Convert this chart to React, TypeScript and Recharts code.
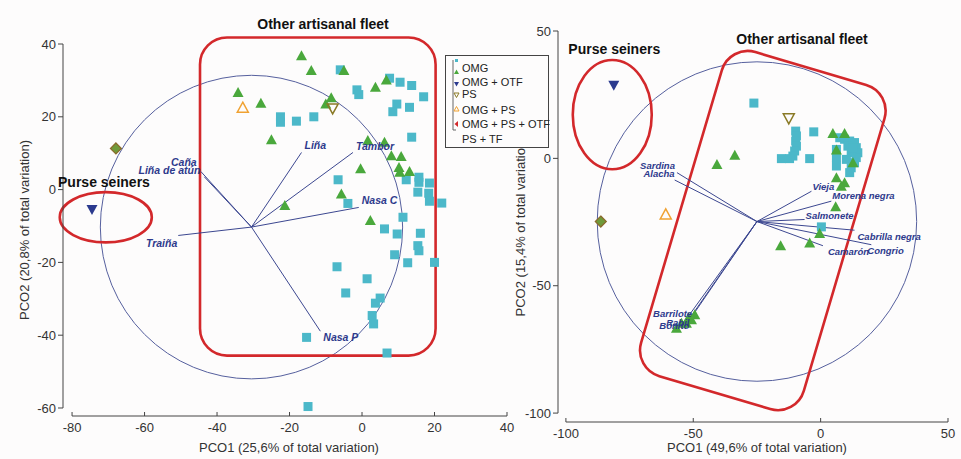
import React from 'react';
import {
  ScatterChart,
  Scatter,
  XAxis,
  YAxis,
  ReferenceLine,
  ReferenceArea,
  ReferenceDot,
} from 'recharts';

type P = [number, number];

// ---- left plot: gears ----
const leftOmg: P[] = [
  [-22.5, 20.0], [-22.5, 18.5], [-18.1, 18.8], [-13.3, 20.0], [-6.0, 32.9], [-1.4, 27.4],
  [-0.9, 26.1], [7.6, 30.6], [10.5, 29.5], [13.7, 28.6], [17.0, 25.5], [9.6, 23.5],
  [8.5, 21.4], [13.1, 22.6], [13.7, 14.4], [-6.6, 2.7], [-3.9, -3.8], [12.2, 2.7],
  [15.7, 3.4], [15.7, 2.0], [18.6, 1.8], [15.4, -0.7], [18.4, -1.0], [18.6, -3.2],
  [22.0, -3.7], [11.3, -7.6], [6.2, -10.8], [9.7, -12.2], [16.1, -12.0], [15.4, -15.4],
  [15.7, -16.8], [9.0, -17.9], [12.6, -20.1], [20.0, -20.0], [-6.9, -21.2], [1.4, -24.5],
  [-4.5, -28.4], [5.0, -29.8], [3.7, -31.2], [2.8, -34.6], [3.2, -36.9], [-15.3, -40.6],
  [6.9, -44.9], [-14.9, -59.6],
];
const leftOmgOtf: P[] = [
  [-34.2, 26.7], [-27.9, 23.7], [-25.0, 13.7], [-16.7, 36.8], [-14.0, 32.7], [-5.0, 32.7],
  [-10.0, 23.5], [-8.5, 25.2], [3.7, 28.1], [6.7, 30.1], [1.6, 13.5], [6.2, 13.0],
  [8.1, 9.3], [10.8, 9.1], [-0.4, 5.7], [10.2, 6.1], [10.4, 4.8], [13.1, 5.0],
  [-5.7, -1.2], [2.3, -8.5], [-21.3, -4.4],
];
const leftPs: P[] = [[-74.5, -5.5]];
const leftOmgPs: P[] = [[-8.1, 22.3]];
const leftOmgPsOtf: P[] = [[-32.9, 22.5]];
const leftPsTf: P[] = [[-67.9, 11.3]];
const leftOrigin = { x: -30.5, y: -10.3 };
const leftVectors = [
  { name: 'Liña', x: -16.7, y: 10.2 },
  { name: 'Tambor', x: -2.5, y: 10.2 },
  { name: 'Nasa C', x: -0.9, y: -4.9 },
  { name: 'Nasa P', x: -11.5, y: -38.9 },
  { name: 'Traiña', x: -50.7, y: -12.6 },
  { name: 'Caña', x: -44.5, y: 5.0 },
  { name: 'Liña de atún', x: -43.5, y: 3.5 },
];
const leftCircle = { x1: -72.2, x2: 11.2, y1: -52.0, y2: 31.4 };
const leftFleetBox = { x1: -44.7, x2: 20.3, y1: -45.6, y2: 41.8 };
const leftSeinerRing = { x1: -83.4, x2: -58.0, y1: -0.7, y2: -14.5 };
const leftXTicks = [-80, -60, -40, -20, 0, 20, 40];
const leftYTicks = [-60, -40, -20, 0, 20, 40];

// ---- right plot: species ----
const rightOmg: P[] = [
  [-26.2, 21.7], [-9.8, 10.7], [-9.5, 8.8], [-9.8, 6.8], [-9.5, 4.8], [-10.2, 2.9],
  [-10.9, 0.9], [-2.7, 10.4], [-15.4, -0.1], [-12.2, -0.1], [-4.3, -0.1], [7.5, 8.1],
  [9.4, 7.5], [11.4, 6.8], [13.3, 6.2], [14.0, 4.2], [14.6, 2.2], [14.0, 0.3],
  [13.3, -1.7], [12.0, -3.7], [11.4, -5.6], [6.2, 3.5], [6.2, 0.3], [6.2, -3.0],
  [10.7, 4.8], [12.0, 2.2], [10.1, -0.4], [12.7, 4.2], [0.3, -26.9],
];
const rightOmgOtf: P[] = [
  [4.8, 9.8], [9.4, 9.8], [6.2, 3.3], [12.7, -1.7], [6.2, -7.6], [9.4, -9.6],
  [8.1, -10.9], [5.9, -19.0], [-40.7, -2.4], [-33.7, 1.2], [-15.7, -34.3], [-4.3, -33.2],
  [-0.4, -29.5], [-49.4, -61.4], [-50.7, -63.4], [-52.7, -64.7], [-54.6, -64.7],
  [-56.6, -66.7], [-51.8, -62.5],
];
const rightPs: P[] = [[-81.2, 28.7]];
const rightOmgPs: P[] = [[-12.5, 15.7]];
const rightOmgPsOtf: P[] = [[-60.8, -22.0]];
const rightPsTf: P[] = [[-86.3, -24.8]];
const rightOrigin = { x: -25.0, y: -24.8 };
const rightVectors = [
  { name: 'Sardina', x: -56.4, y: -5.6 },
  { name: 'Alacha', x: -57.3, y: -8.5 },
  { name: 'Vieja', x: -3.6, y: -12.9 },
  { name: 'Morena negra', x: 4.2, y: -16.8 },
  { name: 'Salmonete', x: -6.3, y: -24.0 },
  { name: 'Cabrilla negra', x: 13.3, y: -28.2 },
  { name: 'Congrio', x: 19.9, y: -33.9 },
  { name: 'Camarón', x: 0.9, y: -34.3 },
  { name: 'Barrilote', x: -52.0, y: -62.1 },
  { name: 'Bonito', x: -52.7, y: -64.7 },
  { name: 'Rabil', x: -51.5, y: -63.5 },
];
const rightCircle = { x1: -87.7, x2: 37.7, y1: -87.5, y2: 37.9 };
const rightFleetBox = { x1: -56.0, x2: 10.6, y1: 38.0, y2: -94.7 };
const rightSeinerRing = { x1: -97.3, x2: -66.3, y1: 38.6, y2: -4.3 };
const rightXTicks = [-100, -50, 0, 50];
const rightYTicks = [-100, -50, 0, 50];

const legendItems = ['OMG', 'OMG + OTF', 'PS', 'OMG + PS', 'OMG + PS + OTF', 'PS + TF'];

const CYAN = '#4cb8c9';
const GREEN = '#4aa83c';
const NAVY = '#2b3a8e';
const OLIVE = '#8a7a26';
const ORANGE = '#f0a232';
const RED = '#d3282b';
const RING = '#56609e';
const VEC = '#3c4790';
const LABEL = '#2e3a8c';
const AXIS = '#444';

// label offsets (px) from vector tips
const labelPos: Record<string, { dx: number; dy: number; a: 'start' | 'end' }> = {
  'Liña': { dx: 3, dy: -3, a: 'start' },
  Tambor: { dx: 3, dy: -2, a: 'start' },
  'Nasa C': { dx: 3, dy: -3, a: 'start' },
  'Nasa P': { dx: 3, dy: 10, a: 'start' },
  'Traiña': { dx: -1, dy: 12, a: 'end' },
  'Caña': { dx: -4, dy: -5, a: 'end' },
  'Liña de atún': { dx: -4, dy: -3, a: 'end' },
  Sardina: { dx: -2, dy: -4, a: 'end' },
  Alacha: { dx: 0, dy: -3, a: 'end' },
  Vieja: { dx: 1, dy: -1, a: 'start' },
  'Morena negra': { dx: 1, dy: -2, a: 'start' },
  Salmonete: { dx: 1, dy: 0, a: 'start' },
  'Cabrilla negra': { dx: 3, dy: 10, a: 'start' },
  Congrio: { dx: -4, dy: 9, a: 'start' },
  'Camarón': { dx: 5, dy: 9, a: 'start' },
  Barrilote: { dx: 4, dy: 0, a: 'end' },
  Bonito: { dx: 3, dy: 6, a: 'end' },
  Rabil: { dx: 0, dy: 6, a: 'end' },
};

const pts = (a: P[]) => a.map(([x, y]) => ({ x, y }));

const square = (p: any) => <rect x={p.cx - 4.5} y={p.cy - 4.5} width={9} height={9} fill={CYAN} />;
const triUp = (fill: string, stroke: string) => (p: any) => (
  <polygon
    points={`${p.cx},${p.cy - 5.5} ${p.cx + 5.5},${p.cy + 4.5} ${p.cx - 5.5},${p.cy + 4.5}`}
    fill={fill}
    stroke={stroke}
    strokeWidth={fill === 'none' ? 1.5 : 0}
  />
);
const triDown = (fill: string, stroke: string) => (p: any) => (
  <polygon
    points={`${p.cx - 5.5},${p.cy - 4.5} ${p.cx + 5.5},${p.cy - 4.5} ${p.cx},${p.cy + 5.5}`}
    fill={fill}
    stroke={stroke}
    strokeWidth={fill === 'none' ? 1.5 : 0}
  />
);
const diamond = (p: any) => (
  <polygon
    points={`${p.cx},${p.cy - 5.5} ${p.cx + 5.5},${p.cy} ${p.cx},${p.cy + 5.5} ${p.cx - 5.5},${p.cy}`}
    fill="#6f9a3a"
    stroke="#8a6a2c"
    strokeWidth={1.2}
  />
);
const vecLabel = (size: number) => (p: any) => {
  const o = labelPos[p.payload.name];
  return (
    <text
      x={p.cx + o.dx}
      y={p.cy + o.dy}
      textAnchor={o.a}
      fill={LABEL}
      fontSize={size}
      fontStyle="italic"
      fontWeight="bold"
    >
      {p.payload.name}
    </text>
  );
};
const ellipseShape = (p: any) => (
  <ellipse
    cx={p.x + p.width / 2}
    cy={p.y + p.height / 2}
    rx={p.width / 2}
    ry={p.height / 2}
    fill="none"
    stroke={p.strokeColor}
    strokeWidth={p.sw}
  />
);
const boxShape = (angle: number) => (p: any) => (
  <rect
    x={p.x}
    y={p.y}
    width={p.width}
    height={p.height}
    rx={27}
    ry={27}
    fill="none"
    stroke={RED}
    strokeWidth={2.6}
    transform={`rotate(${angle} ${p.x + p.width / 2} ${p.y + p.height / 2})`}
  />
);
const title = (text: string) => (p: any) => (
  <text x={p.cx} y={p.cy + 5} textAnchor="middle" fontSize={14} fontWeight="bold" fill="#111">
    {text}
  </text>
);

type Props = {
  width: number;
  margin: { top: number; right: number; bottom: number; left: number };
  yAxisWidth: number;
  xAxisHeight: number;
  xDomain: [number, number];
  yDomain: [number, number];
  xTicks: number[];
  yTicks: number[];
  xLabel: string;
  yLabel: string;
  yLabelOffset: number;
  labelSize: number;
  sets: { omg: P[]; omgOtf: P[]; ps: P[]; omgPs: P[]; omgPsOtf: P[]; psTf: P[] };
  origin: { x: number; y: number };
  vectors: { name: string; x: number; y: number }[];
  circle: { x1: number; x2: number; y1: number; y2: number };
  fleetBox: { x1: number; x2: number; y1: number; y2: number };
  boxAngle: number;
  seinerRing: { x1: number; x2: number; y1: number; y2: number };
  fleetTitle: { x: number; y: number };
  seinerTitle: { x: number; y: number };
};

const Biplot = (c: Props) => {
  const xMin = c.xTicks[0];
  const xMax = c.xTicks[c.xTicks.length - 1];
  const yMin = c.yTicks[0];
  const yMax = c.yTicks[c.yTicks.length - 1];
  return (
    <ScatterChart width={c.width} height={459} margin={c.margin}>
      <XAxis
        type="number"
        dataKey="x"
        domain={c.xDomain}
        ticks={c.xTicks}
        height={c.xAxisHeight}
        axisLine={false}
        tickSize={-4}
        tickMargin={11}
        tickLine={{ stroke: AXIS }}
        tick={{ fill: '#333', fontSize: 13 }}
        label={{ value: c.xLabel, position: 'insideBottom', offset: 7, dx: 4, fill: '#333', fontSize: 13 }}
      />
      <YAxis
        type="number"
        dataKey="y"
        domain={c.yDomain}
        ticks={c.yTicks}
        width={c.yAxisWidth}
        axisLine={false}
        tickSize={5}
        tickLine={{ stroke: AXIS }}
        tick={{ fill: '#333', fontSize: 13 }}
        label={{
          value: c.yLabel,
          angle: -90,
          position: 'insideLeft',
          offset: c.yLabelOffset,
          fill: '#333',
          fontSize: 13,
          style: { textAnchor: 'middle' },
        }}
      />
      <ReferenceLine
        segment={[{ x: xMin, y: c.yDomain[0] }, { x: xMax, y: c.yDomain[0] }]}
        stroke={AXIS}
        ifOverflow="visible"
      />
      <ReferenceLine
        segment={[{ x: c.xDomain[0], y: yMin }, { x: c.xDomain[0], y: yMax }]}
        stroke={AXIS}
        ifOverflow="visible"
      />
      <ReferenceArea
        {...c.circle}
        ifOverflow="visible"
        shape={(p: any) => ellipseShape({ ...p, strokeColor: RING, sw: 1 })}
      />
      {c.vectors.map((v) => (
        <ReferenceLine
          key={v.name}
          segment={[{ x: c.origin.x, y: c.origin.y }, { x: v.x, y: v.y }]}
          stroke={VEC}
          strokeWidth={1}
          ifOverflow="visible"
        />
      ))}
      <ReferenceArea {...c.fleetBox} ifOverflow="visible" shape={boxShape(c.boxAngle)} />
      <ReferenceArea
        {...c.seinerRing}
        ifOverflow="visible"
        shape={(p: any) => ellipseShape({ ...p, strokeColor: RED, sw: 2.6 })}
      />
      <Scatter data={pts(c.sets.omg)} shape={square} isAnimationActive={false} />
      <Scatter data={pts(c.sets.omgOtf)} shape={triUp(GREEN, GREEN)} isAnimationActive={false} />
      <Scatter data={pts(c.sets.ps)} shape={triDown(NAVY, NAVY)} isAnimationActive={false} />
      <Scatter data={pts(c.sets.omgPs)} shape={triDown('none', OLIVE)} isAnimationActive={false} />
      <Scatter data={pts(c.sets.omgPsOtf)} shape={triUp('none', ORANGE)} isAnimationActive={false} />
      <Scatter data={pts(c.sets.psTf)} shape={diamond} isAnimationActive={false} />
      <Scatter data={c.vectors} shape={vecLabel(c.labelSize)} isAnimationActive={false} />
      <ReferenceDot
        x={c.fleetTitle.x}
        y={c.fleetTitle.y}
        r={0}
        ifOverflow="visible"
        shape={title('Other artisanal fleet')}
      />
      <ReferenceDot
        x={c.seinerTitle.x}
        y={c.seinerTitle.y}
        r={0}
        ifOverflow="visible"
        shape={title('Purse seiners')}
      />
    </ScatterChart>
  );
};

const Legend = () => {
  const rowY = [12, 26, 38, 54, 68, 83];
  return (
    <div
      style={{
        position: 'absolute',
        left: 445,
        top: 55,
        width: 104,
        height: 93,
        border: '1px solid #444',
        boxSizing: 'border-box',
        background: '#fdfcfc',
      }}
    >
      <svg width={104} height={93} style={{ display: 'block', fontFamily: '"Liberation Sans", Arial, sans-serif' }}>
        <line x1={7} y1={4} x2={7} y2={74} stroke="#666" strokeWidth={1} />
        <line x1={7} y1={74} x2={10} y2={74} stroke="#666" strokeWidth={1} />
        <rect x={9} y={3} width={3} height={3} fill={CYAN} />
        <polygon points="10.5,13.5 13,18 8,18" fill={GREEN} />
        <polygon points="8,26 13,26 10.5,30.5" fill={NAVY} />
        <polygon points="8,37 13,37 10.5,41.5" fill="none" stroke={OLIVE} strokeWidth={1} />
        <polygon points="10.5,50.5 13,55 8,55" fill="none" stroke={ORANGE} strokeWidth={1} />
        <polygon points="8.5,68 12,65 12,71" fill={RED} />
        {legendItems.map((t, i) => (
          <text key={t} x={16} y={rowY[i] + 4} fontSize={11} fill="#222">
            {t}
          </text>
        ))}
      </svg>
    </div>
  );
};

export default function App() {
  return (
    <div
      style={{
        position: 'relative',
        width: 961,
        height: 459,
        background: '#fdfcfc',
        fontFamily: '"Liberation Sans", Arial, sans-serif',
        overflow: 'hidden',
      }}
    >
      <style>{'body{margin:0}'}</style>
      <div style={{ position: 'absolute', left: 0, top: 0 }}>
        <Biplot
          width={520}
          margin={{ top: 44, right: 13, bottom: 0, left: 0 }}
          yAxisWidth={63}
          xAxisHeight={43}
          xDomain={[-82.5, 40]}
          yDomain={[-62.2, 40]}
          xTicks={leftXTicks}
          yTicks={leftYTicks}
          xLabel="PCO1 (25,6% of total variation)"
          yLabel="PCO2 (20,8% of total variation)"
          yLabelOffset={24}
          labelSize={10.5}
          sets={{
            omg: leftOmg,
            omgOtf: leftOmgOtf,
            ps: leftPs,
            omgPs: leftOmgPs,
            omgPsOtf: leftOmgPsOtf,
            psTf: leftPsTf,
          }}
          origin={leftOrigin}
          vectors={leftVectors}
          circle={leftCircle}
          fleetBox={leftFleetBox}
          boxAngle={0}
          seinerRing={leftSeinerRing}
          fleetTitle={{ x: -10.75, y: 45.5 }}
          seinerTitle={{ x: -71.2, y: 2.1 }}
        />
      </div>
      <div style={{ position: 'absolute', left: 490, top: 0 }}>
        <Biplot
          width={471}
          margin={{ top: 31, right: 13, bottom: 0, left: 0 }}
          yAxisWidth={68}
          xAxisHeight={37}
          xDomain={[-103.1, 50]}
          yDomain={[-103.5, 50]}
          xTicks={rightXTicks}
          yTicks={rightYTicks}
          xLabel="PCO1 (49,6% of total variation)"
          yLabel="PCO2 (15,4% of total variation)"
          yLabelOffset={30}
          labelSize={9.5}
          sets={{
            omg: rightOmg,
            omgOtf: rightOmgOtf,
            ps: rightPs,
            omgPs: rightOmgPs,
            omgPsOtf: rightOmgPsOtf,
            psTf: rightPsTf,
          }}
          origin={rightOrigin}
          vectors={rightVectors}
          circle={rightCircle}
          fleetBox={rightFleetBox}
          boxAngle={16.5}
          seinerRing={rightSeinerRing}
          fleetTitle={{ x: -7.3, y: 46.7 }}
          seinerTitle={{ x: -81.0, y: 42.8 }}
        />
      </div>
      <Legend />
    </div>
  );
}
